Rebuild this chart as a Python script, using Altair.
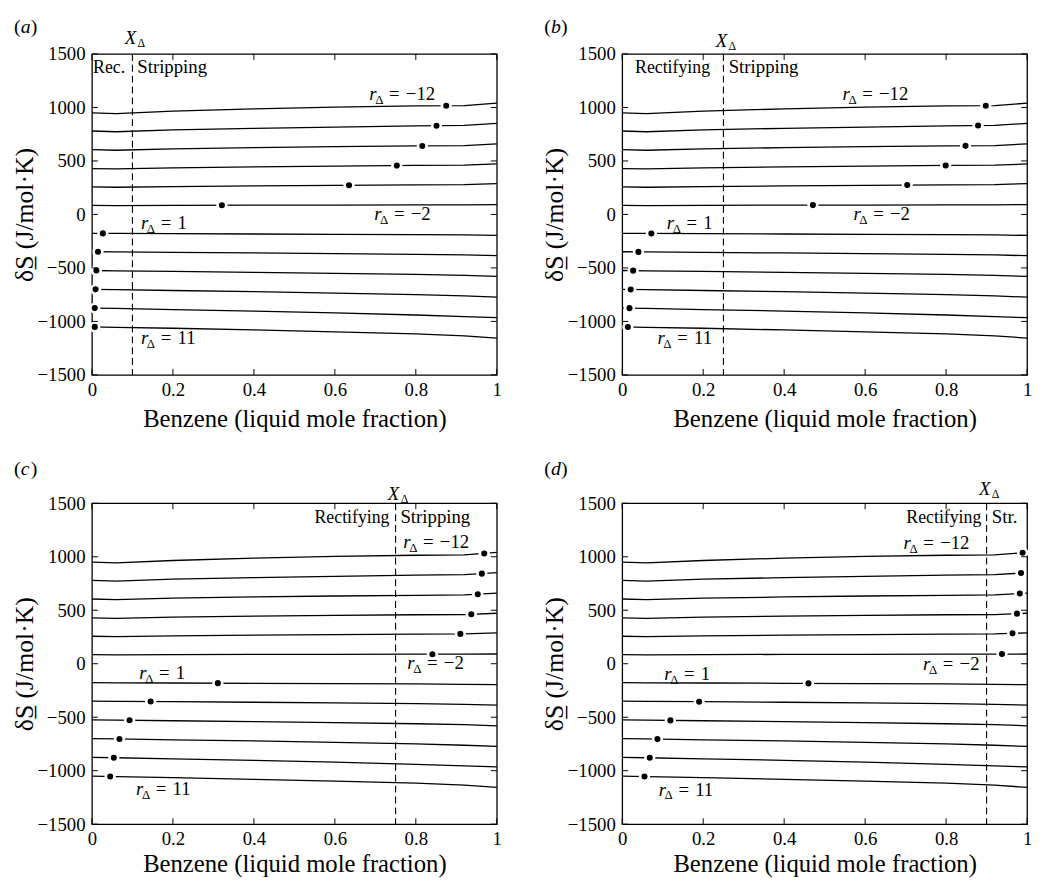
import altair as alt
import pandas as pd
import numpy as np

FONT = "Liberation Serif"
W, H = 410, 325

# ---- data ----
x_grid = [0.0, 0.06, 0.2, 0.4, 0.6, 0.8, 0.92, 1.0]
r_values = [-12, -10, -8, -6, -4, -2, 1, 3, 5, 7, 9, 11]
line_r_m12 = [950, 942, 965, 987, 1004, 1014, 1017, 1040]
line_r_m10 = [780, 773, 790, 805, 817, 828, 832, 851]
line_r_m8 = [605, 600, 613, 624, 633, 640, 643, 660]
line_r_m6 = [429, 425, 436, 445, 452, 458, 460, 472]
line_r_m4 = [257, 254, 260, 267, 272, 277, 279, 288]
line_r_m2 = [85, 83, 85, 87, 88, 89, 90, 91]
line_r_1 = [-177, -178, -180, -183, -186, -189, -192, -196]
line_r_3 = [-349, -351, -355, -360, -366, -373, -379, -386]
line_r_5 = [-524, -527, -533, -541, -550, -561, -570, -580]
line_r_7 = [-700, -703, -711, -722, -735, -750, -762, -773]
line_r_9 = [-875, -879, -889, -903, -920, -940, -955, -965]
line_r_11 = [-1051, -1055, -1064, -1080, -1097, -1117, -1135, -1156]
line_series = [line_r_m12, line_r_m10, line_r_m8, line_r_m6, line_r_m4, line_r_m2,
               line_r_1, line_r_3, line_r_5, line_r_7, line_r_9, line_r_11]

panel_letters = ["a", "b", "c", "d"]
x_delta = [0.10, 0.25, 0.75, 0.90]
dots_a = [0.875, 0.851, 0.816, 0.753, 0.635, 0.321, 0.027, 0.015, 0.011, 0.009, 0.007, 0.007]
dots_b = [0.898, 0.879, 0.848, 0.799, 0.704, 0.471, 0.072, 0.040, 0.027, 0.021, 0.018, 0.014]
dots_c = [0.969, 0.963, 0.953, 0.937, 0.910, 0.841, 0.311, 0.145, 0.093, 0.068, 0.054, 0.045]
dots_d = [0.989, 0.985, 0.982, 0.975, 0.964, 0.938, 0.460, 0.190, 0.119, 0.087, 0.068, 0.055]
dots_all = [dots_a, dots_b, dots_c, dots_d]

left_region_text = ["Rec.", "Rectifying", "Rectifying", "Rectifying"]
right_region_text = ["Stripping", "Stripping", "Stripping", "Str."]
left_region_x = [0.082, 0.217, 0.735, 0.887]
right_region_x = [0.112, 0.263, 0.762, 0.913]
region_y = [1318, 1318, 1317, 1317]

r_label_value = ["\u221212", "\u22122", "1", "11"]
r_label_x = [[0.685, 0.697, 0.121, 0.121],
             [0.544, 0.571, 0.110, 0.087],
             [0.769, 0.779, 0.117, 0.109],
             [0.695, 0.743, 0.104, 0.090]]
r_label_y = [[1066, -48, -134, -1211],
             [1066, -48, -134, -1211],
             [1080, -47, -140, -1224],
             [1073, -60, -150, -1232]]

x_ticks = [0, 0.2, 0.4, 0.6, 0.8, 1.0]
y_ticks = [-1500, -1000, -500, 0, 500, 1000, 1500]

# per-panel label offsets (pixels relative to the plot area)
panel_label_dy = [-21, -21, -29, -29]
xdelta_label_dy = [-10, -7, -3, -8]
x_title_y = [52, 52, 48, 48]

Y_AXIS = alt.Axis(values=y_ticks, format="d", title="\u03b4S\u0332 (J/mol\u00b7K)",
                  labelPadding=7, labelFlush=False, titleX=-55, titleFontSize=26)


def xs(i):
    ax = alt.Axis(values=x_ticks, format="~g", title="Benzene (liquid mole fraction)",
                  labelPadding=6, labelFlush=False, titleY=x_title_y[i],
                  titleBaseline="alphabetic")
    return alt.X("x:Q", scale=alt.Scale(domain=[0, 1], nice=False, zero=False), axis=ax)


def ys():
    return alt.Y("v:Q", scale=alt.Scale(domain=[-1500, 1500], nice=False, zero=False),
                 axis=Y_AXIS)


def panel(i):
    rows = []
    for r, vals in zip(r_values, line_series):
        for x, v in zip(x_grid, vals):
            rows.append({"r": r, "x": x, "v": v})
    lines_df = pd.DataFrame(rows)

    dot_rows = []
    for r, vals, dx in zip(r_values, line_series, dots_all[i]):
        dot_rows.append({"r": r, "x": dx, "v": float(np.interp(dx, x_grid, vals))})
    dots_df = pd.DataFrame(dot_rows)

    X = lambda: xs(i)

    lines = alt.Chart(lines_df).mark_line(color="black", strokeWidth=1.3).encode(
        x=X(), y=ys(), detail="r:N")
    halo = alt.Chart(dots_df).mark_circle(color="white", opacity=1, size=130).encode(
        x=X(), y=ys())
    dots = alt.Chart(dots_df).mark_circle(color="black", opacity=1, size=38).encode(
        x=X(), y=ys())

    xd_df = pd.DataFrame({"x": [x_delta[i]]})
    dashed = alt.Chart(xd_df).mark_rule(color="black", strokeWidth=1.1,
                                        strokeDash=[7, 4]).encode(x=X())
    xlab = alt.Chart(xd_df).mark_text(text="X", font=FONT, fontSize=19, fontStyle="italic",
                                      align="center", baseline="alphabetic", dx=-2,
                                      color="black").encode(
        x=X(), y=alt.value(xdelta_label_dy[i]))
    xlab_sub = alt.Chart(xd_df).mark_text(text="\u0394", font=FONT, fontSize=12, align="center",
                                          baseline="alphabetic", dx=9, dy=3, color="black").encode(
        x=X(), y=alt.value(xdelta_label_dy[i]))

    reg_df = pd.DataFrame({"x": [left_region_x[i], right_region_x[i]],
                           "v": [region_y[i], region_y[i]],
                           "t": [left_region_text[i], right_region_text[i]],
                           "side": ["L", "R"]})
    reg_l = alt.Chart(reg_df[reg_df.side == "L"]).mark_text(
        font=FONT, fontSize=18, align="right", baseline="alphabetic", color="black").encode(
        x=X(), y=ys(), text="t:N")
    reg_r = alt.Chart(reg_df[reg_df.side == "R"]).mark_text(
        font=FONT, fontSize=19, align="left", baseline="alphabetic", color="black").encode(
        x=X(), y=ys(), text="t:N")

    lab_df = pd.DataFrame({"x": r_label_x[i], "v": r_label_y[i], "t": r_label_value})
    lab_r = alt.Chart(lab_df).mark_text(text="r", font=FONT, fontSize=19, fontStyle="italic",
                                        align="left", baseline="alphabetic", color="black").encode(
        x=X(), y=ys())
    lab_d = alt.Chart(lab_df).mark_text(text="\u0394", font=FONT, fontSize=13,
                                        align="left", baseline="alphabetic", dx=6, dy=4,
                                        color="black").encode(x=X(), y=ys())
    lab_eq = alt.Chart(lab_df).mark_text(text="=", font=FONT, fontSize=19, align="left",
                                         baseline="alphabetic", dx=20, color="black").encode(
        x=X(), y=ys())
    lab_t = alt.Chart(lab_df).mark_text(font=FONT, fontSize=19, align="left",
                                        baseline="alphabetic", dx=37, color="black").encode(
        x=X(), y=ys(), text="t:N")

    one = pd.DataFrame({"k": [0]})
    pl_dy = panel_label_dy[i]
    p_open = alt.Chart(one).mark_text(text="(", font=FONT, fontSize=20, align="left",
                                      baseline="alphabetic", color="black").encode(
        x=alt.value(-79), y=alt.value(pl_dy))
    p_let = alt.Chart(one).mark_text(text=panel_letters[i], font=FONT, fontSize=20,
                                     fontStyle="italic", align="left",
                                     baseline="alphabetic", color="black").encode(
        x=alt.value(-72), y=alt.value(pl_dy))
    p_close = alt.Chart(one).mark_text(text=")", font=FONT, fontSize=20, align="left",
                                       baseline="alphabetic", color="black").encode(
        x=alt.value(-62), y=alt.value(pl_dy))

    yt_df = pd.DataFrame({"v": y_ticks})
    xt_df = pd.DataFrame({"x": x_ticks})
    tl = alt.Chart(yt_df).mark_rule(color="black", strokeWidth=1).encode(
        y=ys(), x=alt.value(0), x2=alt.value(6))
    tr = alt.Chart(yt_df).mark_rule(color="black", strokeWidth=1).encode(
        y=ys(), x=alt.value(W - 6), x2=alt.value(W))
    tb = alt.Chart(xt_df).mark_rule(color="black", strokeWidth=1).encode(
        x=X(), y=alt.value(H), y2=alt.value(H - 6))
    tt = alt.Chart(xt_df).mark_rule(color="black", strokeWidth=1).encode(
        x=X(), y=alt.value(0), y2=alt.value(6))

    return alt.layer(lines, dashed, halo, dots, xlab, xlab_sub, reg_l, reg_r,
                     lab_r, lab_d, lab_eq, lab_t, p_open, p_let, p_close,
                     tl, tr, tb, tt).properties(width=W, height=H)


row1 = alt.hconcat(panel(0), panel(1), spacing=39)
row2 = alt.hconcat(panel(2), panel(3), spacing=39)
chart = alt.vconcat(row1, row2, spacing=26).properties(
    background="white",
    padding={"left": 3, "top": 3, "right": 0, "bottom": 0}
).configure_axis(
    labelFont=FONT, labelFontSize=19, labelColor="black",
    titleFont=FONT, titleFontSize=25, titleColor="black", titleFontWeight="normal",
    grid=False, domain=False, ticks=False
).configure_view(stroke="black", strokeWidth=1.3)

chart.save("out.html", embed_options={"renderer": "svg", "actions": False})
